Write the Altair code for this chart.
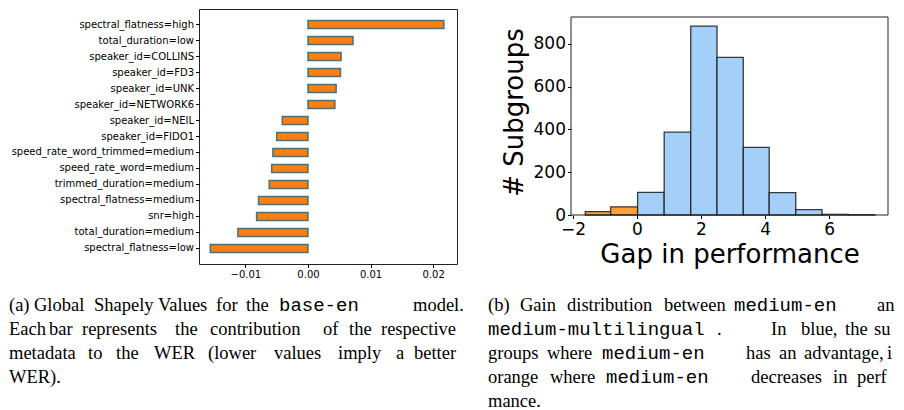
import altair as alt
import pandas as pd

# ---------------- data ----------------
features = [
    "spectral_flatness=high", "total_duration=low", "speaker_id=COLLINS",
    "speaker_id=FD3", "speaker_id=UNK", "speaker_id=NETWORK6",
    "speaker_id=NEIL", "speaker_id=FIDO1", "speed_rate_word_trimmed=medium",
    "speed_rate_word=medium", "trimmed_duration=medium",
    "spectral_flatness=medium", "snr=high", "total_duration=medium",
    "spectral_flatness=low",
]
shap_values = [0.0217, 0.0072, 0.0053, 0.0052, 0.0045, 0.0043, -0.0041,
               -0.0050, -0.0056, -0.0058, -0.0062, -0.0079, -0.0082,
               -0.0112, -0.0156]
shap_ticks = [-0.01, 0.0, 0.01, 0.02]

bin_starts = [-1.615, -0.82, 0.02, 0.85, 1.68, 2.50, 3.32, 4.13, 4.96, 5.78, 6.60]
bin_ends = [-0.82, 0.02, 0.85, 1.68, 2.50, 3.32, 4.13, 4.96, 5.78, 6.60, 7.43]
counts = [16, 38, 106, 387, 883, 737, 316, 105, 25, 3, 2]
groups = ["decrease", "decrease"] + ["advantage"] * 9
gap_ticks = [-2, 0, 2, 4, 6]
count_ticks = [0, 200, 400, 600, 800]

# captions: words per line, `...` marks monospace
cap_a_text = [
    ["(a)", "Global", "Shapely", "Values", "for", "the", "`base-en`", "model."],
    ["Each", "bar", "represents", "the", "contribution", "of", "the", "respective"],
    ["metadata", "to", "the", "WER", "(lower", "values", "imply", "a", "better"],
    ["WER)."],
]
cap_b_text = [
    ["(b)", "Gain", "distribution", "between", "`medium-en`", "and"],
    ["`medium-multilingual`", ".", "In", "blue,", "the", "sub-"],
    ["groups", "where", "`medium-en`", "has", "an", "advantage,", "in"],
    ["orange", "where", "`medium-en`", "decreases", "in", "perfor-"],
    ["mance."],
]

# ---------------- layout (page pixels) ----------------
cap_a_x = [[8, 33, 93, 157, 215, 245, 278, 412],
           [8, 48, 81, 174, 209, 322, 348, 380],
           [8, 87, 115, 153, 207, 273, 337, 395, 413],
           [8]]
cap_b_x = [[487, 519, 566, 663, 733, 876],
           [487, 716, 770, 800, 844, 873],
           [487, 546, 601, 745, 778, 803, 886],
           [487, 549, 605, 750, 832, 856],
           [487]]
line_baselines = [310, 334, 358, 382, 406]
LEFT_X0, TOP_Y0 = 198, 8
PAGE_RIGHT = 895

rows = []
for texts, xs in ((cap_a_text, cap_a_x), (cap_b_text, cap_b_x)):
    for li, (words, wx) in enumerate(zip(texts, xs)):
        for w, x in zip(words, wx):
            mono = w.startswith("`")
            rows.append({"text": w.strip("`"), "style": "mono" if mono else "serif",
                         "px": x - LEFT_X0, "py": line_baselines[li] - TOP_Y0,
                         "room": max(PAGE_RIGHT - x, 1)})
cap_df = pd.DataFrame(rows)

# ---------------- left panel ----------------
left_df = pd.DataFrame({"feature": features, "value": shap_values})
bars = alt.Chart(left_df).mark_bar(
    color="#ff7f0e", stroke="#2e6474", strokeWidth=1.5, strokeOpacity=0.85
).encode(
    x=alt.X("value:Q",
            scale=alt.Scale(domain=[-0.0174, 0.0238], nice=False, zero=False),
            axis=alt.Axis(values=shap_ticks, format=".2f", title=None,
                          labelFontSize=10, tickSize=3.5, domain=False,
                          grid=False, labelPadding=2)),
    x2=alt.datum(0),
    y=alt.Y("feature:N", sort=features,
            scale=alt.Scale(paddingInner=0.5, paddingOuter=0.72),
            axis=alt.Axis(title=None, labelFontSize=10, tickSize=3.5,
                          domain=False, labelLimit=400, labelPadding=2)),
)


def caption_layer(style, font, size):
    base = alt.Chart(cap_df).transform_filter(alt.datum.style == style)
    return base.mark_text(align="left", baseline="alphabetic", font=font,
                          fontSize=size, color="black", ellipsis="\u200b",
                          limit=alt.ExprRef("datum.room")).encode(
        x=alt.X("px:Q", scale=None, axis=None),
        y=alt.Y("py:Q", scale=None, axis=None),
        text="text:N",
    )


left = alt.layer(
    bars,
    caption_layer("serif", "Liberation Serif", 18.5),
    caption_layer("mono", "Liberation Mono", 19),
).resolve_scale(x="independent", y="independent").properties(
    width=258, height=255,
    view=alt.ViewBackground(stroke="#222222", strokeWidth=1),
)

# ---------------- right panel ----------------
hist_df = pd.DataFrame({"start": bin_starts, "end": bin_ends,
                        "count": counts, "group": groups})
hist = alt.Chart(hist_df).mark_bar(
    stroke="#1a1a1a", strokeWidth=1.3, strokeOpacity=0.85
).encode(
    x=alt.X("start:Q",
            scale=alt.Scale(domain=[-2.06, 7.84], nice=False, zero=False),
            axis=alt.Axis(values=gap_ticks, title="Gap in performance",
                          labelFontSize=17, titleFontSize=26, tickSize=3.5,
                          domain=False, grid=False, titlePadding=4,
                          labelPadding=3)),
    x2="end:Q",
    y=alt.Y("count:Q", scale=alt.Scale(domain=[0, 963], nice=False),
            axis=alt.Axis(values=count_ticks, title="# Subgroups",
                          labelFontSize=17, titleFontSize=26, tickSize=3.5,
                          domain=False, grid=False, titlePadding=6,
                          labelPadding=2)),
    y2=alt.datum(0),
    color=alt.Color("group:N",
                    scale=alt.Scale(domain=["decrease", "advantage"],
                                    range=["#ffa040", "#a3cff8"]),
                    legend=None),
)
frame = alt.Chart(pd.DataFrame({"k": [0]})).mark_rect(
    fillOpacity=0, stroke="#222222", strokeWidth=1
).encode(
    x=alt.value(0), x2=alt.value(317), y=alt.value(8), y2=alt.value(206)
)
right = alt.layer(hist, frame).properties(
    width=317, height=206,
    view=alt.ViewBackground(stroke="transparent"),
)

chart = alt.hconcat(left, right, spacing=114, bounds="flush").properties(
    padding={"left": 0, "top": 0, "right": 0, "bottom": 0}
).configure_axis(
    labelFont="DejaVu Sans", titleFont="DejaVu Sans", labelColor="black",
    titleColor="black", tickColor="black", titleFontWeight="normal",
)

chart.save("out.html", embed_options={"renderer": "svg", "actions": False})
